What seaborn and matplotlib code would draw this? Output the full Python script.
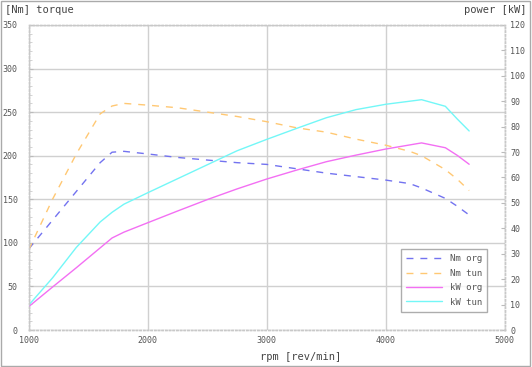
import seaborn as sns
import matplotlib.pyplot as plt
import pandas as pd
from matplotlib.ticker import MultipleLocator

# rpm sample points
rpm = [1000, 1200, 1400, 1600, 1700, 1800, 2000, 2250, 2500, 2750, 3000,
       3250, 3500, 3750, 4000, 4200, 4300, 4500, 4600, 4700]
nm_org = [93, 126, 159, 192, 204, 205, 202, 198, 195, 192, 190,
          185, 180, 176, 172, 168, 163, 151, 142, 132]
nm_tun = [92, 150, 202, 248, 257, 260, 258, 255, 250, 245, 239,
          232, 227, 219, 212, 205, 200, 184, 173, 160]
kw_org = [9.2, 16.9, 24.5, 32.3, 36.2, 38.5, 42.2, 46.8, 51.3, 55.5, 59.4,
          62.9, 66.2, 68.8, 71.2, 72.8, 73.6, 71.7, 68.7, 65.2]
kw_tun = [9.8, 20.5, 32.5, 42.5, 46.3, 49.5, 54, 59.5, 65, 70.5, 75,
          79.3, 83.5, 86.7, 88.8, 90, 90.6, 88, 83, 78.3]

df = pd.DataFrame({"rpm": rpm, "nm_org": nm_org, "nm_tun": nm_tun,
                   "kw_org": kw_org, "kw_tun": kw_tun})

sns.set_style("white")
plt.rcParams['font.family'] = ['DejaVu Sans Mono']

fig = plt.figure(figsize=(5.32, 3.67), dpi=100)
ax = fig.add_axes([0.054, 0.1008, 0.895, 0.8312])
ax2 = ax.twinx()

c_blue, c_orange, c_mag, c_cyan = "#7373f0", "#ffc873", "#f36ff3", "#73f7f7"

sns.lineplot(data=df, x="rpm", y="nm_org", ax=ax, color=c_blue, lw=1,
             linestyle=(0, (5, 5)), label="Nm org", legend=False)
sns.lineplot(data=df, x="rpm", y="nm_tun", ax=ax, color=c_orange, lw=1,
             linestyle=(0, (5, 5)), label="Nm tun", legend=False)
sns.lineplot(data=df, x="rpm", y="kw_org", ax=ax2, color=c_mag, lw=1,
             label="kW org", legend=False)
sns.lineplot(data=df, x="rpm", y="kw_tun", ax=ax2, color=c_cyan, lw=1,
             label="kW tun", legend=False)

ax.set_xlim(1000, 5000)
ax.set_ylim(0, 350)
ax2.set_ylim(0, 120)
ax.xaxis.set_major_locator(MultipleLocator(1000))
ax.xaxis.set_minor_locator(MultipleLocator(200))
ax.yaxis.set_major_locator(MultipleLocator(50))
ax.yaxis.set_minor_locator(MultipleLocator(10))
ax2.yaxis.set_major_locator(MultipleLocator(10))
ax2.yaxis.set_minor_locator(MultipleLocator(10))

ax.grid(True, which="major", color="#d0d0d0", lw=1)
ax.set_axisbelow(True)
ax.set_xlabel("")
ax.set_ylabel("")
ax2.set_ylabel("")

for a in (ax, ax2):
    for s in a.spines.values():
        s.set_color("#c8c8c8")
        s.set_linestyle(":")
        s.set_linewidth(1)
    a.tick_params(which="major", length=3, color="#bbbbbb", labelsize=6,
                  labelcolor="#555555", pad=2)
    a.tick_params(which="minor", length=2, color="#cccccc")
ax.tick_params(axis="x", which="both", direction="in")
ax.tick_params(axis="y", which="both", direction="in", pad=8)
ax2.tick_params(axis="y", which="both", direction="in", pad=4)
ax.tick_params(axis="x", pad=4)

fig.text(0.01, 0.972, "[Nm] torque", fontsize=7.5, color="#444444", va="center")
fig.text(0.99, 0.972, "power [kW]", fontsize=7.5, color="#444444", va="center", ha="right")
fig.text(0.565, 0.027, "rpm [rev/min]", fontsize=7.5, color="#444444", va="center", ha="center")

h1, l1 = ax.get_legend_handles_labels()
h2, l2 = ax2.get_legend_handles_labels()
leg = ax2.legend(h1 + h2, l1 + l2, loc="lower right", bbox_to_anchor=(0.963, 0.059),
                 borderaxespad=0, fontsize=6.5, frameon=True, fancybox=False,
                 handlelength=4, borderpad=0.6, labelspacing=0.6,
                 labelcolor="#555555")
leg.get_frame().set_edgecolor("#999999")
leg.get_frame().set_linewidth(1)

fig.patches.append(plt.Rectangle((0.002, 0.003), 0.995, 0.994, transform=fig.transFigure,
                                 fill=False, edgecolor="#aaaaaa", lw=1))

fig.savefig("out.png", dpi=100)
